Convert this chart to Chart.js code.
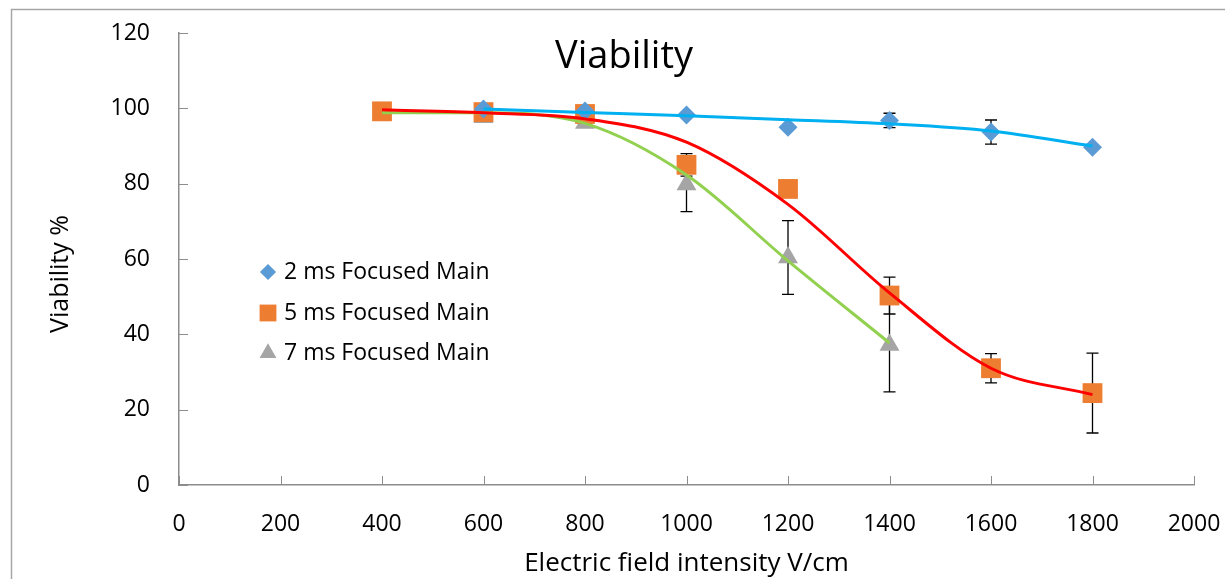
<!DOCTYPE html>
<html>
<head>
<meta charset="utf-8">
<script src="https://cdn.jsdelivr.net/npm/chart.js@4.4.1/dist/chart.umd.min.js"></script>
<style>
  html, body { margin: 0; padding: 0; background: #fff; }
</style>
</head>
<body>
<canvas id="grafico" width="1225" height="579"></canvas>
<script>
// dados
const campo = [400, 600, 800, 1000, 1200, 1400, 1600, 1800];
const nomes = ["2 ms Focused Main", "5 ms Focused Main", "7 ms Focused Main"];

const ms2 = [null, 99.8, 99.3, 98.2, 95.0, 96.8, 93.7, 89.7];
const ms2_erro = [0, 0, 0, 0, 0, 1.9, 3.2, 0];
const ms5 = [99.2, 99.0, 98.5, 85.0, 78.6, 50.3, 31.0, 24.4];
const ms5_erro = [0, 0, 0, 3.0, 0, 4.9, 3.9, 10.6];
const ms7 = [98.8, 97.6, 96.1, 79.8, 60.4, 37.2];
const ms7_erro = [0, 0, 0, 7.2, 9.8, 12.5];

// linhas de tendência
const tend2 = [null, 99.8, 98.9, 98.0, 97.0, 95.9, 94.0, 90.0];
const tend5 = [99.6, 98.8, 97.2, 91.0, 74.5, 51.0, 31.0, 24.0];
const tend7 = [98.8, 98.8, 96.0, 82.3, 59.5, 37.7];

const eixo_x_ticks = [0, 200, 400, 600, 800, 1000, 1200, 1400, 1600, 1800, 2000];
const eixo_y_ticks = [0, 20, 40, 60, 80, 100, 120];

const FONTE = "'Open Sans', sans-serif";

function pontos(xs, ys) {
  return ys.map((y, i) => ({ x: xs[i], y: y })).filter((p) => p.y !== null);
}

function sem_sobra(s) {
  s.paddingTop = 0; s.paddingBottom = 0; s.paddingLeft = 0; s.paddingRight = 0;
}

const moldura = {
  id: "moldura",
  beforeDraw(chart) {
    const ctx = chart.ctx;
    ctx.save();
    ctx.fillStyle = "#fff";
    ctx.fillRect(0, 0, chart.width, chart.height);
    ctx.strokeStyle = "#a6a6a6";
    ctx.lineWidth = 1.5;
    ctx.strokeRect(11.5, 9.5, 1400, 700);
    ctx.restore();
  },
};

const barras_erro = {
  id: "barras_erro",
  beforeDatasetsDraw(chart) {
    const ctx = chart.ctx;
    const xs = chart.scales.x, ys = chart.scales.y;
    const grupos = [[ms2, ms2_erro], [ms5, ms5_erro], [ms7, ms7_erro]];
    ctx.save();
    ctx.strokeStyle = "#000";
    ctx.lineWidth = 1.3;
    grupos.forEach(([vals, erros]) => {
      vals.forEach((v, i) => {
        if (v === null || !erros[i]) return;
        const px = xs.getPixelForValue(campo[i]);
        const topo = ys.getPixelForValue(v + erros[i]);
        const base = ys.getPixelForValue(v - erros[i]);
        ctx.beginPath();
        ctx.moveTo(px, topo); ctx.lineTo(px, base);
        ctx.moveTo(px - 6, topo); ctx.lineTo(px + 6, topo);
        ctx.moveTo(px - 6, base); ctx.lineTo(px + 6, base);
        ctx.stroke();
      });
    });
    ctx.restore();
  },
};

const marcas_eixos = {
  id: "marcas_eixos",
  afterDraw(chart) {
    const ctx = chart.ctx;
    const xs = chart.scales.x, ys = chart.scales.y;
    const area = chart.chartArea;
    ctx.save();
    ctx.strokeStyle = "#8c8c8c";
    ctx.lineWidth = 1;
    ctx.beginPath();
    eixo_x_ticks.forEach((v) => {
      const px = Math.round(xs.getPixelForValue(v)) + 0.5;
      ctx.moveTo(px, area.bottom); ctx.lineTo(px, area.bottom - 9);
    });
    eixo_y_ticks.forEach((v) => {
      const py = Math.round(ys.getPixelForValue(v)) + 0.5;
      ctx.moveTo(area.left, py); ctx.lineTo(area.left + 9, py);
    });
    ctx.stroke();

    // título
    ctx.fillStyle = "#000";
    ctx.font = "38px " + FONTE;
    ctx.textAlign = "center";
    ctx.textBaseline = "alphabetic";
    ctx.fillText("Viability", 624, 68);

    // título do eixo y
    ctx.save();
    ctx.translate(61, 274);
    ctx.rotate(-Math.PI / 2);
    ctx.font = "25px " + FONTE;
    ctx.textBaseline = "middle";
    ctx.fillText("Viability %", 0, 0);
    ctx.restore();

    // legenda
    const linhas = [272, 313, 353];
    ctx.font = "23px " + FONTE;
    ctx.textAlign = "left";
    ctx.textBaseline = "middle";
    [0, 1, 2].forEach((i) => {
      const ds = chart.data.datasets[i];
      ctx.fillStyle = ds.backgroundColor;
      Chart.helpers.drawPoint(ctx, {
        pointStyle: ds.pointStyle, radius: ds.pointRadius * 0.85, rotation: 0, borderWidth: 0,
      }, 268, linhas[i]);
      ctx.fillStyle = "#000";
      ctx.fillText(nomes[i], 284, linhas[i]);
    });
    ctx.restore();
  },
};

function montar_grafico(idElemento) {
  const ctx = document.getElementById(idElemento);
  const datasets = [
    { label: nomes[0], data: pontos(campo, ms2), pointStyle: "rectRot", pointRadius: 9.5,
      backgroundColor: "#5B9BD5", borderWidth: 0, order: 2 },
    { label: nomes[1], data: pontos(campo, ms5), pointStyle: "rect", pointRadius: 14,
      backgroundColor: "#ED7D31", borderWidth: 0, order: 2 },
    { label: nomes[2], data: pontos(campo, ms7), pointStyle: "triangle", pointRadius: 11.5,
      backgroundColor: "#A5A5A5", borderWidth: 0, order: 2 },
    { data: pontos(campo, tend2), showLine: true, pointRadius: 0, borderColor: "#00B0F0",
      borderWidth: 3, cubicInterpolationMode: "monotone", order: 1 },
    { data: pontos(campo, tend5), showLine: true, pointRadius: 0, borderColor: "#FF0000",
      borderWidth: 3, cubicInterpolationMode: "monotone", order: 1 },
    { data: pontos(campo, tend7), showLine: true, pointRadius: 0, borderColor: "#92D050",
      borderWidth: 3, cubicInterpolationMode: "monotone", order: 1 },
  ];
  return new Chart(ctx, {
    type: "scatter",
    data: { datasets },
    options: {
      responsive: false,
      animation: false,
      layout: { padding: { left: 0, top: 33, right: 31, bottom: 0 } },
      plugins: { legend: { display: false }, title: { display: false }, tooltip: { enabled: false } },
      scales: {
        x: {
          type: "linear", min: 0, max: 2000,
          afterFit: (s) => { s.height = 94; sem_sobra(s); },
          afterBuildTicks: (s) => { s.ticks = eixo_x_ticks.map((v) => ({ value: v })); },
          grid: { display: false, drawTicks: false },
          border: { display: true, color: "#8c8c8c", width: 1.5 },
          ticks: { color: "#000", font: { family: FONTE, size: 23 }, padding: 26, maxRotation: 0,
            callback: (v) => String(v) },
          title: { display: true, text: "Electric field intensity V/cm", color: "#000",
            font: { family: FONTE, size: 26 }, padding: { top: 0, bottom: 0 } },
        },
        y: {
          type: "linear", min: 0, max: 120,
          afterFit: (s) => { s.width = 179; sem_sobra(s); },
          afterBuildTicks: (s) => { s.ticks = eixo_y_ticks.map((v) => ({ value: v })); },
          grid: { display: false, drawTicks: false },
          border: { display: true, color: "#8c8c8c", width: 1.5 },
          ticks: { color: "#000", font: { family: FONTE, size: 23 }, padding: 29,
            callback: (v) => String(v) },
        },
      },
    },
    plugins: [moldura, barras_erro, marcas_eixos],
  });
}

montar_grafico("grafico");
</script>
</body>
</html>
